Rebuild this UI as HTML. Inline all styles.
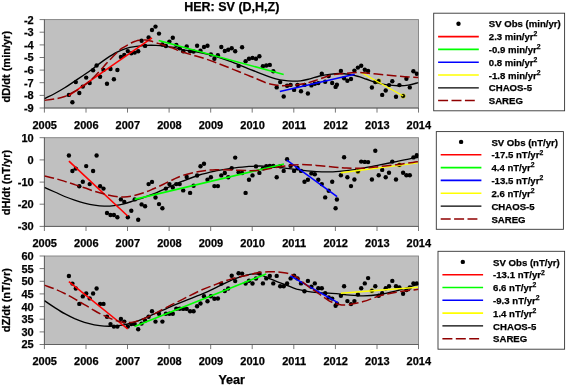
<!DOCTYPE html>
<html><head><meta charset="utf-8"><title>HER: SV (D,H,Z)</title>
<style>html,body{margin:0;padding:0;background:#fff}svg{display:block;font-family:"Liberation Sans",sans-serif}text{stroke:#000;stroke-width:.25px}</style></head>
<body>
<svg width="567" height="386" viewBox="0 0 567 386" font-weight="bold">
<rect width="567" height="386" fill="#fff"/>
<text x="231.8" y="10.5" font-size="12.5" text-anchor="middle" fill="#000">HER: SV (D,H,Z)</text>
<clipPath id="cp0"><rect x="44.4" y="19.6" width="374.1" height="88.4"/></clipPath>
<rect x="44.4" y="19.6" width="374.1" height="88.4" fill="#c0c0c0" stroke="#808080" stroke-width="0.9"/>
<g stroke="#555" stroke-width="0.8" fill="none">
<path d="M44.4,19.6 V112.6"/>
<path d="M39.6,108.0 H418.5 V112.6"/>
<path d="M39.6,19.6 H44.4"/>
<path d="M39.6,32.2 H44.4"/>
<path d="M39.6,44.9 H44.4"/>
<path d="M39.6,57.5 H44.4"/>
<path d="M39.6,70.1 H44.4"/>
<path d="M39.6,82.7 H44.4"/>
<path d="M39.6,95.4 H44.4"/>
<path d="M86.0,108.0 V112.6"/>
<path d="M127.5,108.0 V112.6"/>
<path d="M169.1,108.0 V112.6"/>
<path d="M210.7,108.0 V112.6"/>
<path d="M252.2,108.0 V112.6"/>
<path d="M293.8,108.0 V112.6"/>
<path d="M335.4,108.0 V112.6"/>
<path d="M377.0,108.0 V112.6"/>
</g>
<g font-size="11" fill="#000">
<text x="33.7" y="23.5" text-anchor="end">-2</text>
<text x="33.7" y="36.1" text-anchor="end">-3</text>
<text x="33.7" y="48.8" text-anchor="end">-4</text>
<text x="33.7" y="61.4" text-anchor="end">-5</text>
<text x="33.7" y="74.0" text-anchor="end">-6</text>
<text x="33.7" y="86.6" text-anchor="end">-7</text>
<text x="33.7" y="99.3" text-anchor="end">-8</text>
<text x="33.7" y="111.9" text-anchor="end">-9</text>
<text x="44.7" y="128.7" text-anchor="middle">2005</text>
<text x="86.3" y="128.7" text-anchor="middle">2006</text>
<text x="127.8" y="128.7" text-anchor="middle">2007</text>
<text x="169.4" y="128.7" text-anchor="middle">2008</text>
<text x="211.0" y="128.7" text-anchor="middle">2009</text>
<text x="252.6" y="128.7" text-anchor="middle">2010</text>
<text x="294.1" y="128.7" text-anchor="middle">2011</text>
<text x="335.7" y="128.7" text-anchor="middle">2012</text>
<text x="377.3" y="128.7" text-anchor="middle">2013</text>
<text x="418.8" y="128.7" text-anchor="middle">2014</text>
</g>
<text transform="translate(10.3,66.7) rotate(-90)" font-size="11" text-anchor="middle" fill="#000">dD/dt (min/yr)</text>
<g clip-path="url(#cp0)" fill="none">
<g fill="#000">
<circle cx="68.9" cy="94.9" r="2.2"/>
<circle cx="72.4" cy="102.3" r="2.2"/>
<circle cx="75.8" cy="82.1" r="2.2"/>
<circle cx="79.3" cy="93.0" r="2.2"/>
<circle cx="82.8" cy="86.6" r="2.2"/>
<circle cx="86.2" cy="77.6" r="2.2"/>
<circle cx="89.7" cy="83.0" r="2.2"/>
<circle cx="93.1" cy="70.2" r="2.2"/>
<circle cx="96.6" cy="65.5" r="2.2"/>
<circle cx="100.1" cy="76.8" r="2.2"/>
<circle cx="103.5" cy="69.9" r="2.2"/>
<circle cx="107.0" cy="83.8" r="2.2"/>
<circle cx="110.5" cy="69.0" r="2.2"/>
<circle cx="113.9" cy="79.3" r="2.2"/>
<circle cx="117.4" cy="70.0" r="2.2"/>
<circle cx="120.9" cy="56.9" r="2.2"/>
<circle cx="124.3" cy="54.9" r="2.2"/>
<circle cx="127.8" cy="51.1" r="2.2"/>
<circle cx="131.3" cy="53.3" r="2.2"/>
<circle cx="134.7" cy="52.6" r="2.2"/>
<circle cx="138.2" cy="51.3" r="2.2"/>
<circle cx="141.6" cy="40.7" r="2.2"/>
<circle cx="145.1" cy="45.9" r="2.2"/>
<circle cx="148.6" cy="37.4" r="2.2"/>
<circle cx="152.0" cy="30.0" r="2.2"/>
<circle cx="155.5" cy="26.6" r="2.2"/>
<circle cx="159.0" cy="33.6" r="2.2"/>
<circle cx="162.4" cy="44.5" r="2.2"/>
<circle cx="165.9" cy="46.0" r="2.2"/>
<circle cx="169.4" cy="41.6" r="2.2"/>
<circle cx="172.8" cy="37.7" r="2.2"/>
<circle cx="176.3" cy="44.9" r="2.2"/>
<circle cx="179.7" cy="48.2" r="2.2"/>
<circle cx="183.2" cy="51.2" r="2.2"/>
<circle cx="186.7" cy="46.5" r="2.2"/>
<circle cx="190.1" cy="51.2" r="2.2"/>
<circle cx="193.6" cy="51.5" r="2.2"/>
<circle cx="197.1" cy="45.7" r="2.2"/>
<circle cx="200.5" cy="50.7" r="2.2"/>
<circle cx="204.0" cy="47.0" r="2.2"/>
<circle cx="207.5" cy="45.7" r="2.2"/>
<circle cx="210.9" cy="54.5" r="2.2"/>
<circle cx="214.4" cy="58.8" r="2.2"/>
<circle cx="217.9" cy="55.3" r="2.2"/>
<circle cx="221.3" cy="47.0" r="2.2"/>
<circle cx="224.8" cy="51.0" r="2.2"/>
<circle cx="228.2" cy="49.8" r="2.2"/>
<circle cx="231.7" cy="48.3" r="2.2"/>
<circle cx="235.2" cy="51.3" r="2.2"/>
<circle cx="238.6" cy="65.9" r="2.2"/>
<circle cx="242.1" cy="47.3" r="2.2"/>
<circle cx="245.6" cy="61.2" r="2.2"/>
<circle cx="249.0" cy="58.7" r="2.2"/>
<circle cx="252.5" cy="57.9" r="2.2"/>
<circle cx="256.0" cy="58.7" r="2.2"/>
<circle cx="259.4" cy="56.2" r="2.2"/>
<circle cx="262.9" cy="66.3" r="2.2"/>
<circle cx="266.3" cy="65.5" r="2.2"/>
<circle cx="269.8" cy="64.9" r="2.2"/>
<circle cx="273.3" cy="71.3" r="2.2"/>
<circle cx="276.7" cy="87.4" r="2.2"/>
<circle cx="280.2" cy="82.1" r="2.2"/>
<circle cx="283.7" cy="96.5" r="2.2"/>
<circle cx="287.1" cy="85.8" r="2.2"/>
<circle cx="290.6" cy="84.9" r="2.2"/>
<circle cx="294.1" cy="89.9" r="2.2"/>
<circle cx="297.5" cy="84.9" r="2.2"/>
<circle cx="301.0" cy="91.2" r="2.2"/>
<circle cx="304.5" cy="84.9" r="2.2"/>
<circle cx="307.9" cy="93.5" r="2.2"/>
<circle cx="311.4" cy="85.4" r="2.2"/>
<circle cx="314.8" cy="83.8" r="2.2"/>
<circle cx="318.3" cy="83.1" r="2.2"/>
<circle cx="321.8" cy="73.7" r="2.2"/>
<circle cx="325.2" cy="81.7" r="2.2"/>
<circle cx="328.7" cy="76.1" r="2.2"/>
<circle cx="332.2" cy="83.0" r="2.2"/>
<circle cx="335.6" cy="86.9" r="2.2"/>
<circle cx="336.9" cy="84.7" r="2.2"/>
<circle cx="340.9" cy="70.9" r="2.2"/>
<circle cx="344.1" cy="78.2" r="2.2"/>
<circle cx="347.4" cy="80.8" r="2.2"/>
<circle cx="351.0" cy="79.0" r="2.2"/>
<circle cx="354.4" cy="70.6" r="2.2"/>
<circle cx="357.9" cy="67.6" r="2.2"/>
<circle cx="361.2" cy="65.8" r="2.2"/>
<circle cx="364.8" cy="69.7" r="2.2"/>
<circle cx="368.1" cy="70.9" r="2.2"/>
<circle cx="371.9" cy="87.5" r="2.2"/>
<circle cx="375.3" cy="82.0" r="2.2"/>
<circle cx="378.7" cy="81.0" r="2.2"/>
<circle cx="382.2" cy="94.9" r="2.2"/>
<circle cx="385.7" cy="90.5" r="2.2"/>
<circle cx="389.0" cy="85.1" r="2.2"/>
<circle cx="392.3" cy="81.2" r="2.2"/>
<circle cx="396.0" cy="96.7" r="2.2"/>
<circle cx="399.4" cy="85.1" r="2.2"/>
<circle cx="403.1" cy="96.0" r="2.2"/>
<circle cx="406.4" cy="78.7" r="2.2"/>
<circle cx="409.8" cy="87.4" r="2.2"/>
<circle cx="413.4" cy="71.3" r="2.2"/>
<circle cx="416.8" cy="73.8" r="2.2"/>
</g>
<path d="M44.4,98.7 C46.1,97.8 51.4,95.3 54.8,93.5 C58.2,91.7 61.2,90.0 64.7,87.8 C68.2,85.6 72.3,82.7 75.8,80.4 C79.3,78.1 82.2,76.3 85.7,73.8 C89.2,71.3 93.3,68.2 96.8,65.6 C100.3,63.0 103.4,60.6 106.7,58.4 C110.0,56.2 113.2,54.1 116.5,52.4 C119.8,50.7 123.1,49.3 126.4,48.3 C129.7,47.3 133.0,46.9 136.3,46.4 C139.6,45.9 142.9,45.6 146.2,45.4 C149.5,45.2 152.7,45.2 156.0,45.4 C159.3,45.6 162.6,46.0 165.9,46.4 C169.2,46.8 173.1,47.3 175.8,47.8 C178.5,48.3 179.2,49.0 182.3,49.6 C185.5,50.2 190.6,50.8 194.7,51.5 C198.8,52.2 202.9,53.0 207.0,54.0 C211.1,55.0 215.3,56.2 219.4,57.5 C223.5,58.8 227.6,60.3 231.7,61.9 C235.8,63.5 239.9,65.2 244.0,66.9 C248.1,68.6 252.3,70.2 256.4,71.8 C260.5,73.4 265.6,75.4 268.8,76.6 C272.0,77.8 273.3,78.2 275.8,78.8 C278.3,79.4 281.2,80.0 284.0,80.4 C286.8,80.8 289.5,81.0 292.3,81.1 C295.1,81.2 297.8,81.1 300.6,80.8 C303.4,80.5 305.7,79.9 308.9,79.1 C312.1,78.3 316.2,76.8 319.6,76.0 C323.0,75.2 326.2,74.7 329.5,74.3 C332.8,73.9 336.1,73.5 339.4,73.5 C342.7,73.5 346.0,73.8 349.3,74.3 C352.6,74.8 356.3,75.9 359.1,76.7 C361.9,77.5 363.1,78.0 366.0,79.0 C368.9,80.0 373.1,81.8 376.6,82.8 C380.1,83.8 383.7,84.4 387.2,84.9 C390.7,85.4 394.2,85.7 397.7,85.7 C401.2,85.8 404.9,85.7 408.3,85.2 C411.8,84.7 416.7,83.0 418.4,82.6" stroke="#000" stroke-width="1.35"/>
<path d="M68.8,95.6 L152.0,37.9" stroke="#ff0000" stroke-width="1.6"/>
<path d="M158.7,40.5 L283.7,74.5" stroke="#00ff00" stroke-width="1.6"/>
<path d="M279.9,91.5 L354.7,74.3" stroke="#0000ff" stroke-width="1.6"/>
<path d="M361.2,72.5 L403.2,96.0" stroke="#ffff00" stroke-width="1.4"/>
<circle cx="378.7" cy="81.0" r="2.4" stroke="#dcdc00" stroke-width="0.5"/>
<circle cx="403.1" cy="96.0" r="2.4" stroke="#dcdc00" stroke-width="0.5"/>
<path d="M44.4,100.3 C46.1,100.1 51.4,99.6 54.8,99.0 C58.2,98.4 61.4,97.8 64.7,96.5 C68.0,95.2 71.3,93.3 74.6,91.5 C77.9,89.7 81.1,87.9 84.4,85.4 C87.7,82.9 91.0,79.9 94.3,76.7 C97.6,73.5 101.7,68.7 104.2,66.0 C106.7,63.3 106.9,62.9 109.1,60.6 C111.3,58.3 115.3,54.3 117.5,52.2 C119.7,50.1 119.8,49.7 122.1,48.2 C124.4,46.7 128.9,44.2 131.2,43.0 C133.5,41.8 134.3,41.6 135.8,41.1 C137.3,40.6 138.4,40.5 140.0,40.3 C141.6,40.1 143.8,40.0 145.6,40.1 C147.4,40.2 148.7,40.6 150.8,41.1 C152.9,41.6 156.0,42.8 158.0,43.4 C160.0,44.0 160.8,44.1 162.6,44.7 C164.4,45.3 167.3,46.3 169.1,46.9 C170.9,47.5 171.1,47.4 173.3,48.2 C175.5,49.1 178.7,50.8 182.3,52.0 C185.9,53.2 190.6,54.5 194.7,55.7 C198.8,56.9 202.9,58.0 207.0,59.4 C211.1,60.8 215.3,62.3 219.4,63.9 C223.5,65.5 227.6,67.1 231.7,68.8 C235.8,70.5 240.0,72.1 244.1,73.8 C248.2,75.5 252.5,77.1 256.4,78.7 C260.3,80.3 264.3,82.3 267.5,83.3 C270.7,84.3 273.3,84.5 275.8,84.9 C278.3,85.3 279.6,85.7 282.4,85.8 C285.1,85.9 288.4,85.7 292.3,85.3 C296.2,84.9 301.5,84.2 305.6,83.3 C309.8,82.4 313.2,81.2 317.2,79.9 C321.2,78.6 325.8,76.5 329.5,75.5 C333.2,74.5 336.1,74.2 339.4,73.8 C342.7,73.4 346.0,73.2 349.3,73.0 C352.6,72.8 355.8,72.5 359.1,72.5 C362.4,72.5 365.7,73.0 369.0,73.3 C372.3,73.6 375.6,74.0 378.9,74.3 C382.2,74.6 385.5,74.9 388.8,75.2 C392.1,75.5 395.3,75.8 398.6,76.1 C401.9,76.4 405.2,76.7 408.5,76.9 C411.8,77.2 416.8,77.5 418.4,77.6" stroke="#900000" stroke-width="1.5" stroke-dasharray="9.8 3.5"/>
</g>
<clipPath id="cp1"><rect x="44.4" y="137.7" width="374.1" height="88.7"/></clipPath>
<rect x="44.4" y="137.7" width="374.1" height="88.7" fill="#c0c0c0" stroke="#808080" stroke-width="0.9"/>
<g stroke="#555" stroke-width="0.8" fill="none">
<path d="M44.4,137.7 V231.0"/>
<path d="M39.6,226.4 H418.5 V231.0"/>
<path d="M39.6,137.7 H44.4"/>
<path d="M39.6,159.9 H44.4"/>
<path d="M39.6,182.1 H44.4"/>
<path d="M39.6,204.2 H44.4"/>
<path d="M86.0,226.4 V231.0"/>
<path d="M127.5,226.4 V231.0"/>
<path d="M169.1,226.4 V231.0"/>
<path d="M210.7,226.4 V231.0"/>
<path d="M252.2,226.4 V231.0"/>
<path d="M293.8,226.4 V231.0"/>
<path d="M335.4,226.4 V231.0"/>
<path d="M377.0,226.4 V231.0"/>
</g>
<g font-size="11" fill="#000">
<text x="33.7" y="141.6" text-anchor="end">10</text>
<text x="33.7" y="163.8" text-anchor="end">0</text>
<text x="33.7" y="186.0" text-anchor="end">-10</text>
<text x="33.7" y="208.1" text-anchor="end">-20</text>
<text x="33.7" y="230.3" text-anchor="end">-30</text>
<text x="44.7" y="247.1" text-anchor="middle">2005</text>
<text x="86.3" y="247.1" text-anchor="middle">2006</text>
<text x="127.8" y="247.1" text-anchor="middle">2007</text>
<text x="169.4" y="247.1" text-anchor="middle">2008</text>
<text x="211.0" y="247.1" text-anchor="middle">2009</text>
<text x="252.6" y="247.1" text-anchor="middle">2010</text>
<text x="294.1" y="247.1" text-anchor="middle">2011</text>
<text x="335.7" y="247.1" text-anchor="middle">2012</text>
<text x="377.3" y="247.1" text-anchor="middle">2013</text>
<text x="418.8" y="247.1" text-anchor="middle">2014</text>
</g>
<text transform="translate(10.3,182.6) rotate(-90)" font-size="11" text-anchor="middle" fill="#000">dH/dt (nT/yr)</text>
<g clip-path="url(#cp1)" fill="none">
<g fill="#000">
<circle cx="68.9" cy="155.5" r="2.2"/>
<circle cx="72.4" cy="171.0" r="2.2"/>
<circle cx="75.8" cy="168.6" r="2.2"/>
<circle cx="79.3" cy="186.3" r="2.2"/>
<circle cx="82.8" cy="181.7" r="2.2"/>
<circle cx="86.2" cy="166.1" r="2.2"/>
<circle cx="89.7" cy="184.1" r="2.2"/>
<circle cx="93.1" cy="171.0" r="2.2"/>
<circle cx="96.6" cy="155.5" r="2.2"/>
<circle cx="100.1" cy="186.3" r="2.2"/>
<circle cx="103.5" cy="188.6" r="2.2"/>
<circle cx="107.0" cy="213.0" r="2.2"/>
<circle cx="110.5" cy="215.0" r="2.2"/>
<circle cx="113.9" cy="215.0" r="2.2"/>
<circle cx="117.4" cy="217.2" r="2.2"/>
<circle cx="120.9" cy="199.4" r="2.2"/>
<circle cx="124.3" cy="201.9" r="2.2"/>
<circle cx="127.8" cy="217.2" r="2.2"/>
<circle cx="131.3" cy="210.8" r="2.2"/>
<circle cx="134.7" cy="199.4" r="2.2"/>
<circle cx="138.2" cy="219.7" r="2.2"/>
<circle cx="141.6" cy="204.4" r="2.2"/>
<circle cx="145.1" cy="206.3" r="2.2"/>
<circle cx="148.6" cy="184.1" r="2.2"/>
<circle cx="152.0" cy="181.9" r="2.2"/>
<circle cx="155.5" cy="197.5" r="2.2"/>
<circle cx="159.0" cy="204.1" r="2.2"/>
<circle cx="162.4" cy="208.3" r="2.2"/>
<circle cx="165.9" cy="188.6" r="2.2"/>
<circle cx="169.4" cy="184.1" r="2.2"/>
<circle cx="172.8" cy="187.5" r="2.2"/>
<circle cx="176.3" cy="184.1" r="2.2"/>
<circle cx="179.7" cy="184.1" r="2.2"/>
<circle cx="183.2" cy="190.4" r="2.2"/>
<circle cx="186.7" cy="177.0" r="2.2"/>
<circle cx="190.1" cy="192.9" r="2.2"/>
<circle cx="193.6" cy="185.8" r="2.2"/>
<circle cx="197.1" cy="175.5" r="2.2"/>
<circle cx="200.5" cy="166.2" r="2.2"/>
<circle cx="204.0" cy="163.7" r="2.2"/>
<circle cx="207.5" cy="179.7" r="2.2"/>
<circle cx="210.9" cy="177.2" r="2.2"/>
<circle cx="214.4" cy="186.1" r="2.2"/>
<circle cx="217.9" cy="186.1" r="2.2"/>
<circle cx="221.3" cy="175.4" r="2.2"/>
<circle cx="224.8" cy="173.0" r="2.2"/>
<circle cx="228.2" cy="177.2" r="2.2"/>
<circle cx="231.7" cy="168.1" r="2.2"/>
<circle cx="235.2" cy="157.6" r="2.2"/>
<circle cx="238.6" cy="172.2" r="2.2"/>
<circle cx="242.1" cy="173.0" r="2.2"/>
<circle cx="245.6" cy="192.9" r="2.2"/>
<circle cx="249.0" cy="179.7" r="2.2"/>
<circle cx="252.5" cy="175.4" r="2.2"/>
<circle cx="256.0" cy="166.4" r="2.2"/>
<circle cx="259.4" cy="172.9" r="2.2"/>
<circle cx="262.9" cy="168.4" r="2.2"/>
<circle cx="266.3" cy="166.2" r="2.2"/>
<circle cx="269.8" cy="165.9" r="2.2"/>
<circle cx="273.3" cy="165.9" r="2.2"/>
<circle cx="276.7" cy="177.2" r="2.2"/>
<circle cx="280.2" cy="166.2" r="2.2"/>
<circle cx="283.7" cy="170.9" r="2.2"/>
<circle cx="287.1" cy="159.3" r="2.2"/>
<circle cx="290.6" cy="165.9" r="2.2"/>
<circle cx="294.1" cy="170.9" r="2.2"/>
<circle cx="297.5" cy="168.0" r="2.2"/>
<circle cx="301.0" cy="170.9" r="2.2"/>
<circle cx="304.5" cy="181.7" r="2.2"/>
<circle cx="307.9" cy="179.7" r="2.2"/>
<circle cx="311.4" cy="173.4" r="2.2"/>
<circle cx="314.8" cy="174.2" r="2.2"/>
<circle cx="318.3" cy="179.7" r="2.2"/>
<circle cx="321.8" cy="184.1" r="2.2"/>
<circle cx="325.2" cy="197.4" r="2.2"/>
<circle cx="328.7" cy="190.8" r="2.2"/>
<circle cx="332.2" cy="181.7" r="2.2"/>
<circle cx="335.6" cy="208.2" r="2.2"/>
<circle cx="336.9" cy="199.5" r="2.2"/>
<circle cx="340.9" cy="175.3" r="2.2"/>
<circle cx="344.1" cy="157.2" r="2.2"/>
<circle cx="347.4" cy="177.3" r="2.2"/>
<circle cx="351.0" cy="186.1" r="2.2"/>
<circle cx="354.4" cy="179.5" r="2.2"/>
<circle cx="357.9" cy="171.5" r="2.2"/>
<circle cx="361.2" cy="161.6" r="2.2"/>
<circle cx="364.8" cy="161.9" r="2.2"/>
<circle cx="368.1" cy="162.1" r="2.2"/>
<circle cx="371.9" cy="179.5" r="2.2"/>
<circle cx="375.3" cy="150.8" r="2.2"/>
<circle cx="378.7" cy="175.2" r="2.2"/>
<circle cx="382.2" cy="169.9" r="2.2"/>
<circle cx="385.7" cy="177.3" r="2.2"/>
<circle cx="389.0" cy="172.8" r="2.2"/>
<circle cx="392.3" cy="161.6" r="2.2"/>
<circle cx="396.0" cy="179.5" r="2.2"/>
<circle cx="399.4" cy="164.9" r="2.2"/>
<circle cx="403.1" cy="172.8" r="2.2"/>
<circle cx="406.4" cy="175.2" r="2.2"/>
<circle cx="409.8" cy="175.2" r="2.2"/>
<circle cx="413.4" cy="157.4" r="2.2"/>
<circle cx="416.8" cy="155.3" r="2.2"/>
</g>
<path d="M44.4,187.3 C46.1,188.1 51.4,190.5 54.8,192.0 C58.2,193.5 61.4,195.1 64.7,196.5 C68.0,197.9 71.3,199.1 74.6,200.2 C77.9,201.3 81.1,202.3 84.4,203.1 C87.7,203.9 91.0,204.6 94.3,205.1 C97.6,205.6 100.9,206.0 104.2,206.1 C107.5,206.2 110.8,206.0 114.1,205.6 C117.4,205.2 120.7,204.7 124.0,203.9 C127.3,203.1 130.5,201.8 133.8,200.7 C137.1,199.6 140.4,198.6 143.7,197.5 C147.0,196.4 149.9,195.5 153.6,194.0 C157.3,192.5 161.2,190.4 166.0,188.3 C170.8,186.2 177.1,183.4 182.6,181.2 C188.1,179.0 193.7,176.7 199.2,175.0 C204.7,173.3 210.3,172.1 215.8,170.9 C221.3,169.8 226.8,168.8 232.3,168.1 C237.8,167.3 244.3,166.8 248.9,166.4 C253.5,166.1 257.1,166.0 260.0,166.0 C262.9,166.0 262.7,166.2 266.6,166.5 C270.5,166.8 277.7,167.2 283.2,167.8 C288.7,168.4 294.3,169.4 299.8,170.0 C305.3,170.6 310.8,171.3 316.3,171.6 C321.8,171.9 327.8,172.0 332.9,171.8 C337.9,171.7 341.6,171.3 346.6,170.7 C351.7,170.1 357.7,169.2 363.2,168.2 C368.7,167.2 374.3,166.0 379.8,164.9 C385.3,163.8 390.8,162.7 396.3,161.6 C401.8,160.5 409.2,158.9 412.9,158.2 C416.6,157.5 417.5,157.5 418.4,157.3" stroke="#000" stroke-width="1.35"/>
<path d="M68.9,161.2 L127.7,216.0" stroke="#ff0000" stroke-width="1.6"/>
<path d="M134.6,199.4 L284.0,164.0" stroke="#00ff00" stroke-width="1.6"/>
<path d="M286.8,160.1 L337.1,196.6" stroke="#0000ff" stroke-width="1.6"/>
<path d="M340.8,172.7 L418.2,162.9" stroke="#ffff00" stroke-width="1.4"/>
<circle cx="357.9" cy="171.5" r="2.4" stroke="#dcdc00" stroke-width="0.5"/>
<circle cx="399.4" cy="164.9" r="2.4" stroke="#dcdc00" stroke-width="0.5"/>
<path d="M44.4,175.9 C46.1,176.3 51.4,177.5 54.8,178.4 C58.2,179.3 61.4,180.4 64.7,181.4 C68.0,182.4 71.3,183.5 74.6,184.6 C77.9,185.7 81.1,186.7 84.4,187.8 C87.7,188.9 91.0,190.3 94.3,191.3 C97.6,192.3 100.9,193.2 104.2,194.0 C107.5,194.8 110.8,195.7 114.1,196.2 C117.4,196.7 120.7,197.1 124.0,197.0 C127.3,196.9 130.5,196.4 133.8,195.7 C137.1,195.0 140.4,194.0 143.7,192.8 C147.0,191.7 150.3,190.2 153.6,188.8 C156.9,187.4 160.2,185.8 163.5,184.2 C166.8,182.6 170.1,180.9 173.3,179.5 C176.5,178.1 178.3,176.8 182.6,175.5 C186.9,174.2 193.7,172.4 199.2,171.4 C204.7,170.4 210.3,169.9 215.8,169.7 C221.3,169.5 226.8,169.8 232.3,170.0 C237.8,170.2 244.3,170.6 248.9,170.7 C253.5,170.8 257.1,170.6 260.0,170.3 C262.9,170.1 262.7,169.9 266.6,169.2 C270.5,168.5 277.7,167.0 283.2,166.2 C288.7,165.4 294.3,164.7 299.8,164.6 C305.3,164.5 310.8,165.0 316.3,165.4 C321.8,165.8 327.8,166.5 332.9,166.9 C337.9,167.3 341.6,167.9 346.6,168.1 C351.7,168.3 357.7,168.5 363.2,168.2 C368.7,167.9 374.3,167.1 379.8,166.5 C385.3,165.9 390.8,165.4 396.3,164.7 C401.8,164.0 409.2,162.9 412.9,162.4 C416.6,161.9 417.5,161.7 418.4,161.6" stroke="#900000" stroke-width="1.5" stroke-dasharray="9.8 3.5"/>
</g>
<clipPath id="cp2"><rect x="44.4" y="256.0" width="374.1" height="88.5"/></clipPath>
<rect x="44.4" y="256.0" width="374.1" height="88.5" fill="#c0c0c0" stroke="#808080" stroke-width="0.9"/>
<g stroke="#555" stroke-width="0.8" fill="none">
<path d="M44.4,256.0 V349.1"/>
<path d="M39.6,344.5 H418.5 V349.1"/>
<path d="M39.6,256.0 H44.4"/>
<path d="M39.6,268.6 H44.4"/>
<path d="M39.6,281.3 H44.4"/>
<path d="M39.6,293.9 H44.4"/>
<path d="M39.6,306.6 H44.4"/>
<path d="M39.6,319.2 H44.4"/>
<path d="M39.6,331.9 H44.4"/>
<path d="M86.0,344.5 V349.1"/>
<path d="M127.5,344.5 V349.1"/>
<path d="M169.1,344.5 V349.1"/>
<path d="M210.7,344.5 V349.1"/>
<path d="M252.2,344.5 V349.1"/>
<path d="M293.8,344.5 V349.1"/>
<path d="M335.4,344.5 V349.1"/>
<path d="M377.0,344.5 V349.1"/>
</g>
<g font-size="11" fill="#000">
<text x="33.7" y="259.9" text-anchor="end">60</text>
<text x="33.7" y="272.5" text-anchor="end">55</text>
<text x="33.7" y="285.2" text-anchor="end">50</text>
<text x="33.7" y="297.8" text-anchor="end">45</text>
<text x="33.7" y="310.5" text-anchor="end">40</text>
<text x="33.7" y="323.1" text-anchor="end">35</text>
<text x="33.7" y="335.8" text-anchor="end">30</text>
<text x="33.7" y="348.4" text-anchor="end">25</text>
<text x="44.7" y="365.2" text-anchor="middle">2005</text>
<text x="86.3" y="365.2" text-anchor="middle">2006</text>
<text x="127.8" y="365.2" text-anchor="middle">2007</text>
<text x="169.4" y="365.2" text-anchor="middle">2008</text>
<text x="211.0" y="365.2" text-anchor="middle">2009</text>
<text x="252.6" y="365.2" text-anchor="middle">2010</text>
<text x="294.1" y="365.2" text-anchor="middle">2011</text>
<text x="335.7" y="365.2" text-anchor="middle">2012</text>
<text x="377.3" y="365.2" text-anchor="middle">2013</text>
<text x="418.8" y="365.2" text-anchor="middle">2014</text>
</g>
<text transform="translate(10.3,300.2) rotate(-90)" font-size="11" text-anchor="middle" fill="#000">dZ/dt (nT/yr)</text>
<g clip-path="url(#cp2)" fill="none">
<g fill="#000">
<circle cx="68.9" cy="276.0" r="2.2"/>
<circle cx="72.4" cy="283.6" r="2.2"/>
<circle cx="75.8" cy="288.5" r="2.2"/>
<circle cx="79.3" cy="303.9" r="2.2"/>
<circle cx="82.8" cy="296.4" r="2.2"/>
<circle cx="86.2" cy="293.5" r="2.2"/>
<circle cx="89.7" cy="298.4" r="2.2"/>
<circle cx="93.1" cy="293.5" r="2.2"/>
<circle cx="96.6" cy="288.5" r="2.2"/>
<circle cx="100.1" cy="303.9" r="2.2"/>
<circle cx="103.5" cy="303.9" r="2.2"/>
<circle cx="107.0" cy="316.7" r="2.2"/>
<circle cx="110.5" cy="324.1" r="2.2"/>
<circle cx="113.9" cy="326.6" r="2.2"/>
<circle cx="117.4" cy="326.6" r="2.2"/>
<circle cx="120.9" cy="318.9" r="2.2"/>
<circle cx="124.3" cy="321.6" r="2.2"/>
<circle cx="127.8" cy="326.6" r="2.2"/>
<circle cx="131.3" cy="324.1" r="2.2"/>
<circle cx="134.7" cy="324.1" r="2.2"/>
<circle cx="138.2" cy="329.3" r="2.2"/>
<circle cx="141.6" cy="323.6" r="2.2"/>
<circle cx="145.1" cy="320.6" r="2.2"/>
<circle cx="148.6" cy="316.7" r="2.2"/>
<circle cx="152.0" cy="311.3" r="2.2"/>
<circle cx="155.5" cy="321.6" r="2.2"/>
<circle cx="159.0" cy="313.7" r="2.2"/>
<circle cx="162.4" cy="321.6" r="2.2"/>
<circle cx="165.9" cy="313.7" r="2.2"/>
<circle cx="169.4" cy="313.7" r="2.2"/>
<circle cx="172.8" cy="313.7" r="2.2"/>
<circle cx="176.3" cy="308.8" r="2.2"/>
<circle cx="179.7" cy="308.8" r="2.2"/>
<circle cx="183.2" cy="308.9" r="2.2"/>
<circle cx="186.7" cy="308.9" r="2.2"/>
<circle cx="190.1" cy="311.3" r="2.2"/>
<circle cx="193.6" cy="311.3" r="2.2"/>
<circle cx="197.1" cy="306.3" r="2.2"/>
<circle cx="200.5" cy="303.5" r="2.2"/>
<circle cx="204.0" cy="296.3" r="2.2"/>
<circle cx="207.5" cy="301.3" r="2.2"/>
<circle cx="210.9" cy="296.3" r="2.2"/>
<circle cx="214.4" cy="298.8" r="2.2"/>
<circle cx="217.9" cy="298.5" r="2.2"/>
<circle cx="221.3" cy="283.6" r="2.2"/>
<circle cx="224.8" cy="291.0" r="2.2"/>
<circle cx="228.2" cy="288.5" r="2.2"/>
<circle cx="231.7" cy="275.8" r="2.2"/>
<circle cx="235.2" cy="281.1" r="2.2"/>
<circle cx="238.6" cy="273.3" r="2.2"/>
<circle cx="242.1" cy="273.6" r="2.2"/>
<circle cx="245.6" cy="283.6" r="2.2"/>
<circle cx="249.0" cy="280.7" r="2.2"/>
<circle cx="252.5" cy="283.5" r="2.2"/>
<circle cx="256.0" cy="278.5" r="2.2"/>
<circle cx="259.4" cy="273.5" r="2.2"/>
<circle cx="262.9" cy="283.4" r="2.2"/>
<circle cx="266.3" cy="278.4" r="2.2"/>
<circle cx="269.8" cy="275.9" r="2.2"/>
<circle cx="273.3" cy="283.4" r="2.2"/>
<circle cx="276.7" cy="275.9" r="2.2"/>
<circle cx="280.2" cy="286.2" r="2.2"/>
<circle cx="283.7" cy="286.2" r="2.2"/>
<circle cx="287.1" cy="283.4" r="2.2"/>
<circle cx="290.6" cy="278.4" r="2.2"/>
<circle cx="294.1" cy="275.6" r="2.2"/>
<circle cx="297.5" cy="278.4" r="2.2"/>
<circle cx="301.0" cy="283.4" r="2.2"/>
<circle cx="304.5" cy="291.2" r="2.2"/>
<circle cx="307.9" cy="280.9" r="2.2"/>
<circle cx="311.4" cy="286.7" r="2.2"/>
<circle cx="314.8" cy="283.4" r="2.2"/>
<circle cx="318.3" cy="288.3" r="2.2"/>
<circle cx="321.8" cy="288.3" r="2.2"/>
<circle cx="325.2" cy="293.3" r="2.2"/>
<circle cx="328.7" cy="297.5" r="2.2"/>
<circle cx="332.2" cy="298.6" r="2.2"/>
<circle cx="335.6" cy="305.8" r="2.2"/>
<circle cx="336.9" cy="303.8" r="2.2"/>
<circle cx="340.9" cy="295.8" r="2.2"/>
<circle cx="344.1" cy="286.2" r="2.2"/>
<circle cx="347.4" cy="301.1" r="2.2"/>
<circle cx="351.0" cy="304.1" r="2.2"/>
<circle cx="354.4" cy="301.1" r="2.2"/>
<circle cx="357.9" cy="294.5" r="2.2"/>
<circle cx="361.2" cy="288.3" r="2.2"/>
<circle cx="364.8" cy="283.4" r="2.2"/>
<circle cx="368.1" cy="278.1" r="2.2"/>
<circle cx="371.9" cy="290.8" r="2.2"/>
<circle cx="375.3" cy="286.2" r="2.2"/>
<circle cx="378.7" cy="295.8" r="2.2"/>
<circle cx="382.2" cy="293.3" r="2.2"/>
<circle cx="385.7" cy="288.3" r="2.2"/>
<circle cx="389.0" cy="286.2" r="2.2"/>
<circle cx="392.3" cy="280.9" r="2.2"/>
<circle cx="396.0" cy="286.2" r="2.2"/>
<circle cx="399.4" cy="287.5" r="2.2"/>
<circle cx="403.1" cy="293.8" r="2.2"/>
<circle cx="406.4" cy="290.0" r="2.2"/>
<circle cx="409.8" cy="287.5" r="2.2"/>
<circle cx="413.4" cy="283.4" r="2.2"/>
<circle cx="416.8" cy="283.4" r="2.2"/>
</g>
<path d="M44.4,300.6 C46.1,301.8 51.4,305.4 54.8,307.6 C58.2,309.8 61.4,311.9 64.7,313.7 C68.0,315.5 71.3,317.2 74.6,318.7 C77.9,320.1 81.1,321.4 84.4,322.4 C87.7,323.4 91.0,324.2 94.3,324.8 C97.6,325.4 100.9,325.9 104.2,326.1 C107.5,326.3 110.8,326.3 114.1,326.1 C117.4,325.9 120.7,325.4 124.0,324.8 C127.3,324.2 130.5,323.4 133.8,322.4 C137.1,321.4 140.4,320.1 143.7,318.7 C147.0,317.3 149.9,315.8 153.6,314.2 C157.3,312.6 162.3,310.4 166.0,308.8 C169.7,307.2 172.6,305.8 176.0,304.4 C179.4,303.0 183.1,301.6 186.6,300.2 C190.1,298.8 193.7,297.3 197.2,295.9 C200.7,294.5 204.2,293.3 207.7,291.7 C211.2,290.1 214.8,288.1 218.3,286.4 C221.8,284.7 225.9,282.7 228.9,281.3 C231.9,279.9 233.6,279.2 236.6,278.1 C239.6,277.0 244.2,275.6 247.2,274.9 C250.2,274.2 252.3,273.9 254.6,273.9 C256.9,273.9 258.6,274.2 260.9,274.9 C263.2,275.6 265.3,276.9 268.3,278.1 C271.3,279.3 275.9,281.2 278.9,282.3 C281.8,283.4 283.1,283.9 286.0,285.0 C288.9,286.1 293.1,288.1 296.6,289.2 C300.1,290.2 303.7,290.7 307.2,291.3 C310.7,291.9 314.2,292.3 317.7,292.6 C321.2,292.9 324.8,293.0 328.3,293.2 C331.8,293.4 335.8,293.5 338.9,293.8 C341.9,294.1 342.6,294.5 346.6,294.8 C350.7,295.1 357.7,295.9 363.2,295.8 C368.7,295.8 374.3,295.3 379.8,294.5 C385.3,293.7 390.8,292.2 396.3,290.8 C401.8,289.4 409.2,287.0 412.9,285.9 C416.6,284.8 417.5,284.6 418.4,284.4" stroke="#000" stroke-width="1.35"/>
<path d="M68.9,281.6 L127.7,329.0" stroke="#ff0000" stroke-width="1.6"/>
<path d="M134.6,326.6 L266.2,273.9" stroke="#00ff00" stroke-width="1.6"/>
<path d="M290.2,275.9 L337.9,302.6" stroke="#0000ff" stroke-width="1.6"/>
<path d="M340.8,293.3 L417.9,287.2" stroke="#ffff00" stroke-width="1.4"/>
<circle cx="371.9" cy="290.8" r="2.4" stroke="#dcdc00" stroke-width="0.5"/>
<path d="M44.4,285.1 C46.1,285.8 51.4,287.6 54.8,289.0 C58.2,290.4 61.4,291.9 64.7,293.5 C68.0,295.1 71.3,297.0 74.6,298.9 C77.9,300.8 81.1,302.7 84.4,304.6 C87.7,306.5 91.0,308.6 94.3,310.5 C97.6,312.4 100.9,314.1 104.2,315.7 C107.5,317.3 110.8,318.8 114.1,319.9 C117.4,321.0 120.7,322.1 124.0,322.4 C127.3,322.7 130.5,322.5 133.8,321.9 C137.1,321.3 140.4,320.0 143.7,318.7 C147.0,317.4 149.9,316.0 153.6,314.2 C157.3,312.4 161.2,310.1 166.0,307.6 C170.8,305.1 177.1,302.1 182.6,299.3 C188.1,296.5 193.7,293.5 199.2,291.0 C204.7,288.5 210.3,286.5 215.8,284.4 C221.3,282.3 226.8,280.2 232.3,278.6 C237.8,277.0 244.7,275.9 248.9,274.9 C253.1,273.9 254.5,273.3 257.7,272.8 C260.9,272.3 265.1,272.0 268.3,271.8 C271.5,271.6 273.9,271.6 276.8,271.8 C279.8,272.0 283.4,272.5 286.0,273.0 C288.6,273.5 290.2,274.0 292.3,274.9 C294.4,275.8 296.6,277.1 298.7,278.6 C300.8,280.1 302.9,282.2 305.0,283.9 C307.1,285.6 308.9,286.8 311.4,288.6 C313.9,290.4 317.1,292.6 319.9,294.5 C322.7,296.4 326.2,299.0 328.3,300.3 C330.4,301.6 331.0,301.7 332.6,302.4 C334.2,303.1 335.7,303.9 337.9,304.3 C340.1,304.7 341.8,305.4 346.0,305.0 C350.2,304.6 357.6,303.1 363.2,301.6 C368.8,300.1 374.3,297.4 379.8,295.8 C385.3,294.2 390.8,293.2 396.3,292.2 C401.8,291.2 409.2,290.5 412.9,290.0 C416.6,289.5 417.5,289.3 418.4,289.2" stroke="#900000" stroke-width="1.5" stroke-dasharray="9.8 3.5"/>
</g>
<text x="231.7" y="384" font-size="12.6" text-anchor="middle" fill="#000">Year</text>
<rect x="433.7" y="13.2" width="130.9" height="97.6" fill="#fff" stroke="#333" stroke-width="0.9"/>
<circle cx="458.5" cy="23.8" r="2.2" fill="#000"/>
<text x="488.8" y="27.4" font-size="9.6" fill="#000">SV Obs (min/yr)</text>
<path d="M438.1,36.6 H478.8" stroke="#ff0000" stroke-width="1.6"/>
<text x="488.8" y="40.2" font-size="9.6" fill="#000">2.3 min/yr<tspan font-size="6.8" dy="-3.8">2</tspan></text>
<path d="M438.1,49.4 H478.8" stroke="#00ff00" stroke-width="1.6"/>
<text x="488.8" y="53.0" font-size="9.6" fill="#000">-0.9 min/yr<tspan font-size="6.8" dy="-3.8">2</tspan></text>
<path d="M438.1,62.2 H478.8" stroke="#0000ff" stroke-width="1.6"/>
<text x="488.8" y="65.8" font-size="9.6" fill="#000">0.8 min/yr<tspan font-size="6.8" dy="-3.8">2</tspan></text>
<path d="M438.1,75.0 H478.8" stroke="#ffff00" stroke-width="1.6"/>
<text x="488.8" y="78.6" font-size="9.6" fill="#000">-1.8 min/yr<tspan font-size="6.8" dy="-3.8">2</tspan></text>
<path d="M438.1,87.8 H478.8" stroke="#000" stroke-width="1.3"/>
<text x="488.8" y="91.4" font-size="9.6" fill="#000">CHAOS-5</text>
<path d="M438.1,100.6 H474.8" stroke="#900000" stroke-width="1.5" stroke-dasharray="10 3.4"/>
<text x="488.8" y="104.2" font-size="9.6" fill="#000">SAREG</text>
<rect x="436.3" y="131.6" width="127.1" height="97.7" fill="#fff" stroke="#333" stroke-width="0.9"/>
<circle cx="461.1" cy="141.9" r="2.2" fill="#000"/>
<text x="491.4" y="145.5" font-size="9.6" fill="#000">SV Obs (nT/yr)</text>
<path d="M440.7,154.8 H481.4" stroke="#ff0000" stroke-width="1.6"/>
<text x="491.4" y="158.3" font-size="9.6" fill="#000">-17.5 nT/yr<tspan font-size="6.8" dy="-3.8">2</tspan></text>
<path d="M440.7,167.6 H481.4" stroke="#00ff00" stroke-width="1.6"/>
<text x="491.4" y="171.2" font-size="9.6" fill="#000">4.4 nT/yr<tspan font-size="6.8" dy="-3.8">2</tspan></text>
<path d="M440.7,180.4 H481.4" stroke="#0000ff" stroke-width="1.6"/>
<text x="491.4" y="184.0" font-size="9.6" fill="#000">-13.5 nT/yr<tspan font-size="6.8" dy="-3.8">2</tspan></text>
<path d="M440.7,193.3 H481.4" stroke="#ffff00" stroke-width="1.6"/>
<text x="491.4" y="196.9" font-size="9.6" fill="#000">2.6 nT/yr<tspan font-size="6.8" dy="-3.8">2</tspan></text>
<path d="M440.7,206.2 H481.4" stroke="#000" stroke-width="1.3"/>
<text x="491.4" y="209.8" font-size="9.6" fill="#000">CHAOS-5</text>
<path d="M440.7,219.0 H477.4" stroke="#900000" stroke-width="1.5" stroke-dasharray="10 3.4"/>
<text x="491.4" y="222.6" font-size="9.6" fill="#000">SAREG</text>
<rect x="438.0" y="251.3" width="126.6" height="97.9" fill="#fff" stroke="#333" stroke-width="0.9"/>
<circle cx="462.8" cy="261.9" r="2.2" fill="#000"/>
<text x="493.1" y="265.5" font-size="9.6" fill="#000">SV Obs (nT/yr)</text>
<path d="M442.4,274.7 H483.1" stroke="#ff0000" stroke-width="1.6"/>
<text x="493.1" y="278.3" font-size="9.6" fill="#000">-13.1 nT/yr<tspan font-size="6.8" dy="-3.8">2</tspan></text>
<path d="M442.4,287.5 H483.1" stroke="#00ff00" stroke-width="1.6"/>
<text x="493.1" y="291.1" font-size="9.6" fill="#000">6.6 nT/yr<tspan font-size="6.8" dy="-3.8">2</tspan></text>
<path d="M442.4,300.3 H483.1" stroke="#0000ff" stroke-width="1.6"/>
<text x="493.1" y="303.9" font-size="9.6" fill="#000">-9.3 nT/yr<tspan font-size="6.8" dy="-3.8">2</tspan></text>
<path d="M442.4,313.1 H483.1" stroke="#ffff00" stroke-width="1.6"/>
<text x="493.1" y="316.7" font-size="9.6" fill="#000">1.4 nT/yr<tspan font-size="6.8" dy="-3.8">2</tspan></text>
<path d="M442.4,325.9 H483.1" stroke="#000" stroke-width="1.3"/>
<text x="493.1" y="329.5" font-size="9.6" fill="#000">CHAOS-5</text>
<path d="M442.4,338.7 H479.1" stroke="#900000" stroke-width="1.5" stroke-dasharray="10 3.4"/>
<text x="493.1" y="342.3" font-size="9.6" fill="#000">SAREG</text>
</svg>
</body></html>
